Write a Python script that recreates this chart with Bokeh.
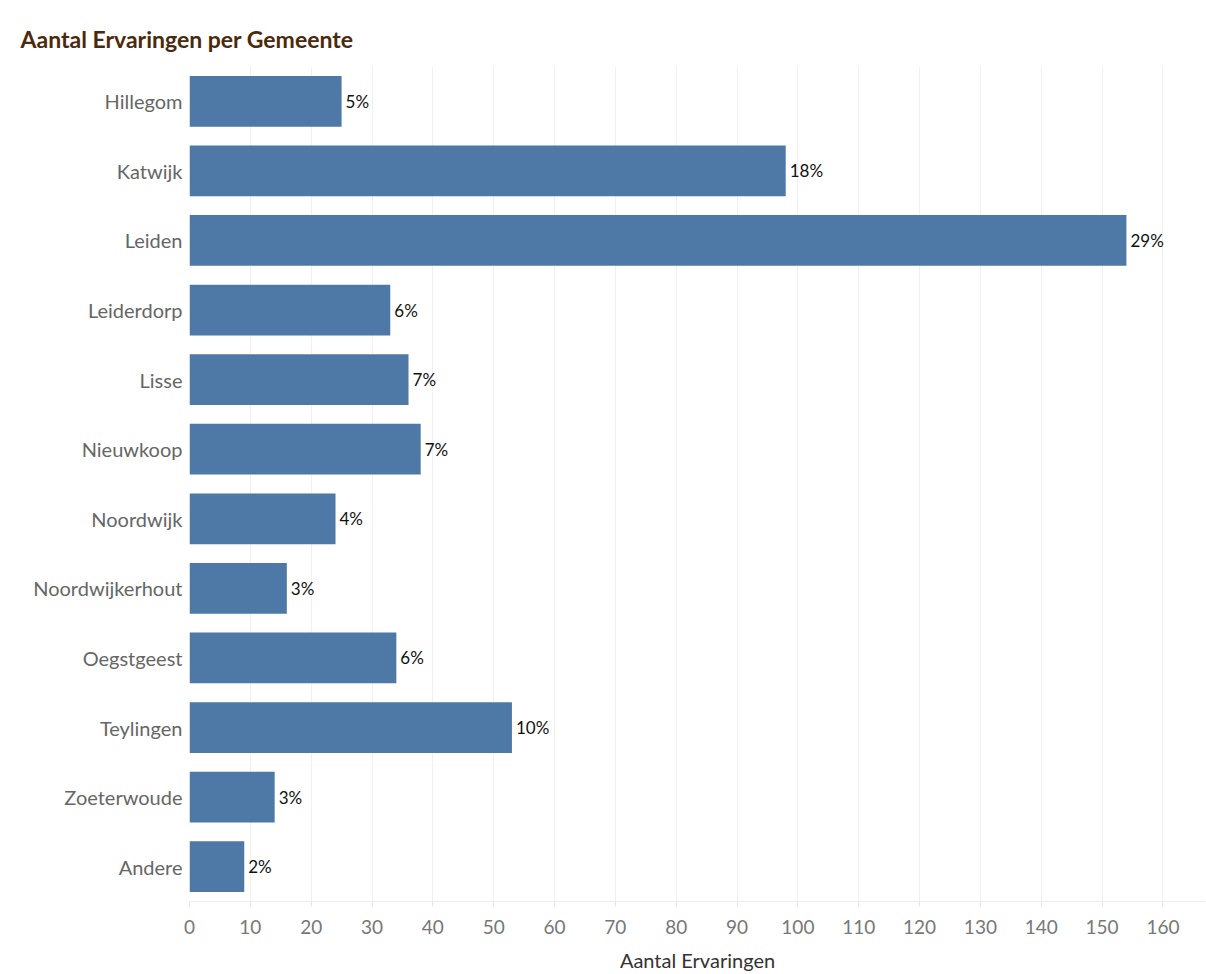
from bokeh.plotting import figure
from bokeh.models import FactorRange, Range1d, ColumnDataSource, FixedTicker
from bokeh.core.properties import value
from bokeh.embed import file_html
from bokeh.resources import INLINE

gemeenten = ["Hillegom", "Katwijk", "Leiden", "Leiderdorp", "Lisse", "Nieuwkoop",
             "Noordwijk", "Noordwijkerhout", "Oegstgeest", "Teylingen", "Zoeterwoude", "Andere"]
aantal = [25, 98, 154, 33, 36, 38, 24, 16, 34, 53, 14, 9]
percentages = ["5%", "18%", "29%", "6%", "7%", "7%", "4%", "3%", "6%", "10%", "3%", "2%"]
x_ticks = list(range(0, 161, 10))

FONT = "Lato"

src = ColumnDataSource(dict(g=gemeenten, n=aantal, pct=percentages))

p = figure(width=1206, height=974, output_backend="svg", toolbar_location=None,
           y_range=FactorRange(factors=list(reversed(gemeenten))),
           x_range=Range1d(0, 167),
           title="Aantal Ervaringen per Gemeente",
           min_border_left=189, min_border_right=1, min_border_top=66, min_border_bottom=72)

p.hbar(y="g", right="n", left=0, height=0.73, source=src, color="#4e79a7", line_color=None)
p.text(x="n", y="g", text="pct", source=src, x_offset=4, text_baseline="middle",
       text_align="left", text_font=value(FONT), text_font_size="17px", text_color="#111111")

p.title.text_font = FONT
p.title.text_font_size = "23px"
p.title.text_font_style = "bold"
p.title.text_color = "#4a2a0c"
p.title.align = "left"
p.title.offset = -169
p.title.standoff = 28

p.outline_line_color = None
p.ygrid.grid_line_color = None
p.xgrid.grid_line_color = "#f0f0f0"
p.xgrid.ticker = FixedTicker(ticks=x_ticks)

xa = p.xaxis[0]
xa.ticker = FixedTicker(ticks=x_ticks)
xa.axis_line_color = "#eeeeee"
xa.major_tick_line_color = "#e6e6e6"
xa.major_tick_out = 5
xa.major_tick_in = 0
xa.minor_tick_line_color = None
xa.major_label_text_font = FONT
xa.major_label_text_font_size = "19px"
xa.major_label_text_color = "#777777"
xa.major_label_standoff = 13
xa.axis_label = "Aantal Ervaringen"
xa.axis_label_text_font = FONT
xa.axis_label_text_font_size = "20px"
xa.axis_label_text_font_style = "normal"
xa.axis_label_text_color = "#333333"
xa.axis_label_standoff = 11

ya = p.yaxis[0]
ya.axis_line_color = None
ya.major_tick_line_color = None
ya.minor_tick_line_color = None
ya.major_label_text_font = FONT
ya.major_label_text_font_size = "20px"
ya.major_label_text_color = "#666666"
ya.major_label_standoff = 1

open("out.html", "w").write(file_html(p, INLINE))
